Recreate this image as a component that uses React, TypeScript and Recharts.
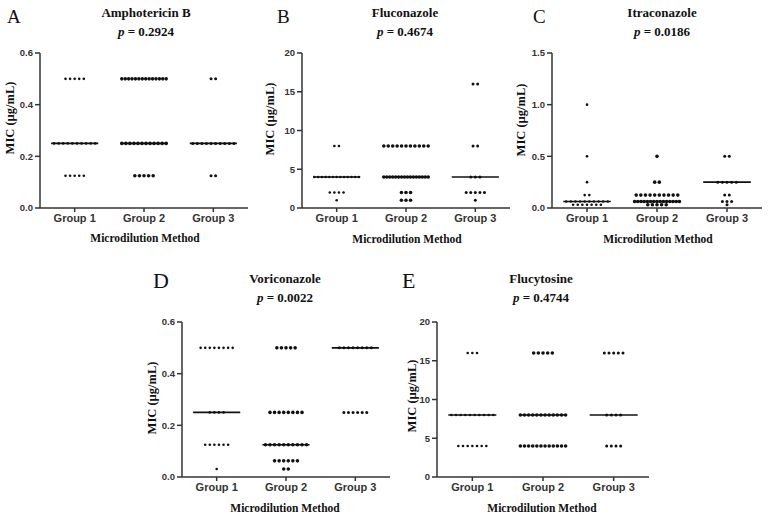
import React from "react";
import { ScatterChart, Scatter, XAxis, YAxis, ReferenceLine } from "recharts";

type Row = [number, number]; // [MIC value (µg/mL), number of isolates]

const groupLabels = ["Group 1", "Group 2", "Group 3"];
const panelLetters = ["A", "B", "C", "D", "E"];
const drugNames = ["Amphotericin B", "Fluconazole", "Itraconazole", "Voriconazole", "Flucytosine"];
const pValues = ["0.2924", "0.4674", "0.0186", "0.0022", "0.4744"];

// A — Amphotericin B
const ampG1: Row[] = [[0.5, 5], [0.25, 10], [0.125, 5]];
const ampG2: Row[] = [[0.5, 14], [0.25, 12], [0.125, 5]];
const ampG3: Row[] = [[0.5, 2], [0.25, 10], [0.125, 2]];
const ampMedians = [0.25, 0.25, 0.25];
const ampTicks = [0, 0.2, 0.4, 0.6];

// B — Fluconazole
const fluG1: Row[] = [[8, 2], [4, 13], [2, 4], [1, 1]];
const fluG2: Row[] = [[8, 11], [4, 16], [2, 3], [1, 3]];
const fluG3: Row[] = [[16, 2], [8, 2], [4, 3], [2, 5], [1, 1]];
const fluMedians = [4, 4, 4];
const fluTicks = [0, 5, 10, 15, 20];

// C — Itraconazole
const itrG1: Row[] = [[1, 1], [0.5, 1], [0.25, 1], [0.125, 2], [0.0625, 10], [0.03125, 7]];
const itrG2: Row[] = [[0.5, 1], [0.25, 2], [0.125, 10], [0.0625, 15], [0.03125, 5]];
const itrG3: Row[] = [[0.5, 2], [0.25, 5], [0.125, 2], [0.0625, 3], [0.03125, 1]];
const itrMedians = [0.0625, 0.0625, 0.25];
const itrTicks = [0, 0.5, 1.0, 1.5];

// D — Voriconazole
const vorG1: Row[] = [[0.5, 8], [0.25, 4], [0.125, 6], [0.03125, 1]];
const vorG2: Row[] = [[0.5, 5], [0.25, 8], [0.125, 10], [0.0625, 6], [0.03125, 2]];
const vorG3: Row[] = [[0.5, 8], [0.25, 6]];
const vorMedians = [0.25, 0.125, 0.5];
const vorTicks = [0, 0.2, 0.4, 0.6];

// E — Flucytosine
const fcyG1: Row[] = [[16, 3], [8, 10], [4, 7]];
const fcyG2: Row[] = [[16, 5], [8, 12], [4, 12]];
const fcyG3: Row[] = [[16, 5], [8, 4], [4, 4]];
const fcyMedians = [8, 8, 8];
const fcyTicks = [0, 5, 10, 15, 20];

const panelData = [
  { groups: [ampG1, ampG2, ampG3], medians: ampMedians, ticks: ampTicks, decimals: 1 },
  { groups: [fluG1, fluG2, fluG3], medians: fluMedians, ticks: fluTicks, decimals: 0 },
  { groups: [itrG1, itrG2, itrG3], medians: itrMedians, ticks: itrTicks, decimals: 1 },
  { groups: [vorG1, vorG2, vorG3], medians: vorMedians, ticks: vorTicks, decimals: 1 },
  { groups: [fcyG1, fcyG2, fcyG3], medians: fcyMedians, ticks: fcyTicks, decimals: 0 },
];

// layout (pixels)
const layout = [
  { left: 40, top: 53, w: 208, h: 155, titleX: 146, titleY: 17, letterX: 7, letterY: 23, letterSize: 19, xtX: 145, xtY: 242, ylX: 10, ylY: 118 },
  { left: 302, top: 53, w: 208, h: 155, titleX: 405, titleY: 17, letterX: 277, letterY: 23, letterSize: 19, xtX: 407, xtY: 243, ylX: 270, ylY: 119 },
  { left: 552, top: 53, w: 210, h: 155, titleX: 662, titleY: 17, letterX: 533, letterY: 23, letterSize: 19, xtX: 658, xtY: 243, ylX: 521, ylY: 120 },
  { left: 182, top: 322, w: 208, h: 155, titleX: 285, titleY: 283, letterX: 153, letterY: 288, letterSize: 22, xtX: 285, xtY: 512, ylX: 152, ylY: 398 },
  { left: 437, top: 322, w: 212, h: 155, titleX: 541, titleY: 283, letterX: 402, letterY: 288, letterSize: 22, xtX: 542, xtY: 512, ylX: 412, ylY: 396 },
];

const dotRadius = [1.3, 1.8, 1.5];
const AXIS = "#333";
const SERIF = "'Liberation Serif', 'Times New Roman', serif";
const SANS = "'Liberation Sans', Arial, sans-serif";

function spread(rows: Row[], g: number) {
  const pts: { x: number; y: number }[] = [];
  rows.forEach(([v, n]) => {
    const s = n > 1 ? Math.min(0.066, 0.64 / (n - 1)) : 0;
    for (let i = 0; i < n; i++) pts.push({ x: g + (i - (n - 1) / 2) * s, y: v });
  });
  return pts;
}

function Panel({ idx }: { idx: number }) {
  const d = panelData[idx];
  const L = layout[idx];
  const mL = 45, mR = 5, mT = 10, xH = 30;
  const W = L.w + mL + mR;
  const H = L.h + mT + xH;
  const yMax = d.ticks[d.ticks.length - 1];
  return (
    <div style={{ position: "absolute", left: L.left - mL, top: L.top - mT, width: W, height: H }}>
      <ScatterChart width={W} height={H} margin={{ top: mT, right: mR, bottom: 0, left: 0 }}>
        <XAxis
          type="number"
          dataKey="x"
          domain={[0.5, 3.5]}
          ticks={[1, 2, 3]}
          interval={0}
          height={xH}
          tickFormatter={(v: number) => groupLabels[Math.round(v) - 1]}
          axisLine={{ stroke: AXIS, strokeWidth: 1.5 }}
          tickLine={{ stroke: AXIS, strokeWidth: 1.5 }}
          tickSize={4}
          tick={{ fontSize: 11, fontWeight: "bold", fill: "#333", fontFamily: SANS }}
        />
        <YAxis
          type="number"
          dataKey="y"
          domain={[0, yMax]}
          ticks={d.ticks}
          interval={0}
          width={mL}
          tickFormatter={(v: number) => v.toFixed(d.decimals)}
          axisLine={{ stroke: AXIS, strokeWidth: 1.5 }}
          tickLine={{ stroke: AXIS, strokeWidth: 1.5 }}
          tickSize={5}
          tick={{ fontSize: 9.5, fontWeight: "bold", fill: "#333", fontFamily: SANS }}
        />
        {d.groups.map((rows, gi) => (
          <Scatter
            key={gi}
            data={spread(rows, gi + 1)}
            isAnimationActive={false}
            shape={(p: any) => <circle cx={p.cx} cy={p.cy} r={dotRadius[gi]} fill="#111" />}
          />
        ))}
        {d.medians.map((m, gi) => (
          <ReferenceLine
            key={"m" + gi}
            segment={[{ x: gi + 1 - 0.34, y: m }, { x: gi + 1 + 0.34, y: m }]}
            stroke="#111"
            strokeWidth={1.6}
            ifOverflow="visible"
          />
        ))}
      </ScatterChart>
    </div>
  );
}

export default function App() {
  return (
    <div style={{ position: "absolute", left: 0, top: 0, width: 771, height: 518, background: "#fff", overflow: "hidden" }}>
      {panelData.map((_, i) => (
        <Panel key={i} idx={i} />
      ))}
      <svg width={771} height={518} style={{ position: "absolute", left: 0, top: 0, pointerEvents: "none" }}>
        {layout.map((L, i) => (
          <g key={i} fontFamily={SERIF} fill="#111">
            <text x={L.letterX} y={L.letterY} fontSize={L.letterSize}>{panelLetters[i]}</text>
            <text x={L.titleX} y={L.titleY} fontSize={13} fontWeight="bold" textAnchor="middle">{drugNames[i]}</text>
            <text x={L.titleX} y={L.titleY + 19} fontSize={13} fontWeight="bold" textAnchor="middle">
              <tspan fontStyle="italic">p</tspan> = {pValues[i]}
            </text>
            <text x={L.xtX} y={L.xtY} fontSize={11.5} fontWeight="bold" textAnchor="middle">Microdilution Method</text>
            <text transform={`translate(${L.ylX},${L.ylY}) rotate(-90)`} dy="0.35em" fontSize={12.5} fontWeight="bold" textAnchor="middle">MIC (µg/mL)</text>
          </g>
        ))}
      </svg>
    </div>
  );
}
